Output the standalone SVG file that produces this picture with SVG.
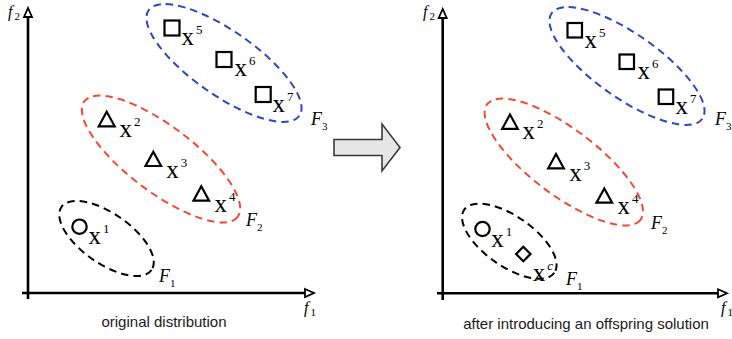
<svg xmlns="http://www.w3.org/2000/svg" width="732" height="339" viewBox="0 0 732 339">
<style>
.ax{stroke:#000;stroke-width:2.6;fill:none}
.pt{fill:#fff;stroke:#000;stroke-width:2.2}
.el{fill:none;stroke-width:2;stroke-dasharray:7.5 5}
.blue{stroke:#2a48c4}
.red{stroke:#f24b33}
.blk{stroke:#000}
.lbl{font-family:"Liberation Serif","Times New Roman",serif;font-size:25px;fill:#000}
.sup{font-size:13px}
.F{font-family:"Liberation Serif","Times New Roman",serif;font-size:18px;font-style:italic;fill:#000}
.sub{font-size:11px;font-style:normal}
.f{font-family:"Liberation Serif","Times New Roman",serif;font-size:16px;font-style:italic;fill:#000}
.cap{font-family:"Liberation Sans",Arial,sans-serif;font-size:15px;fill:#1a1a1a;text-anchor:middle}
</style>
<defs>
<marker id="ah" markerUnits="userSpaceOnUse" markerWidth="14" markerHeight="12" refX="1" refY="5" orient="auto" overflow="visible">
<path d="M1,1 L10,5 L1,9 Z" fill="#fff" stroke="#000" stroke-width="1.8" stroke-linejoin="miter"/>
</marker>
</defs>
<rect width="732" height="339" fill="#fff"/>

<!-- Left panel -->
<g id="left-axes">
<line class="ax" x1="28" y1="299" x2="28" y2="17" marker-end="url(#ah)"/>
<line class="ax" x1="22" y1="293" x2="305" y2="293" marker-end="url(#ah)"/>
<text class="f" x="8" y="17">f<tspan class="sub" dx="2" dy="3">2</tspan></text>
<text class="f" x="304" y="313">f<tspan class="sub" dx="2" dy="3">1</tspan></text>
<text class="cap" x="164" y="327">original distribution</text>
</g>
<g id="left-F3">
<ellipse class="el blue" cx="224" cy="63" rx="92" ry="32" transform="rotate(35 224 63)"/>
<text class="F" x="311" y="125">F<tspan class="sub" dy="5">3</tspan></text>
</g>
<g id="left-F2">
<ellipse class="el red" cx="161" cy="159" rx="96" ry="33" transform="rotate(37 161 159)"/>
<text class="F" x="246" y="226">F<tspan class="sub" dy="5">2</tspan></text>
</g>
<g id="left-F1">
<ellipse class="el blk" cx="106.5" cy="238.5" rx="55" ry="25" transform="rotate(35 106.5 238.5)"/>
<text class="F" x="159" y="282">F<tspan class="sub" dy="5">1</tspan></text>
</g>
<g id="left-x5"><rect class="pt" x="164.5" y="20.5" width="15" height="15"/><text class="lbl" x="181.5" y="45">x<tspan class="sup" dx="2" dy="-11">5</tspan></text></g>
<g id="left-x6"><rect class="pt" x="216.5" y="52" width="15" height="15"/><text class="lbl" x="234.5" y="76">x<tspan class="sup" dx="2" dy="-11">6</tspan></text></g>
<g id="left-x7"><rect class="pt" x="255.7" y="87" width="15" height="15"/><text class="lbl" x="272.5" y="111.7">x<tspan class="sup" dx="2" dy="-11">7</tspan></text></g>
<g id="left-x2"><polygon class="pt" points="106.7,111.7 98.7,126.3 114.7,126.3"/><text class="lbl" x="119.5" y="136.7">x<tspan class="sup" dx="2" dy="-11">2</tspan></text></g>
<g id="left-x3"><polygon class="pt" points="153.3,151.7 145.5,166 161.1,166"/><text class="lbl" x="166.2" y="178">x<tspan class="sup" dx="2" dy="-11">3</tspan></text></g>
<g id="left-x4"><polygon class="pt" points="201.3,186.3 193.5,200.7 209.1,200.7"/><text class="lbl" x="214.5" y="211.7">x<tspan class="sup" dx="2" dy="-11">4</tspan></text></g>
<g id="left-x1"><circle class="pt" cx="79.5" cy="226.7" r="7.2"/><text class="lbl" x="88.5" y="244">x<tspan class="sup" dx="2" dy="-11">1</tspan></text></g>

<!-- Connector: block arrow -->
<g id="connectors">
<polygon points="334,139.5 382,139.5 382,124 400,147.5 382,171 382,155.5 334,155.5" fill="#e6e6e6" stroke="#3a3a3a" stroke-width="1.6" stroke-linejoin="miter"/>
</g>

<!-- Right panel -->
<g id="right-axes">
<line class="ax" x1="442.7" y1="300" x2="442.7" y2="18" marker-end="url(#ah)"/>
<line class="ax" x1="437" y1="293.3" x2="718" y2="293.3" marker-end="url(#ah)"/>
<text class="f" x="423" y="17">f<tspan class="sub" dx="2" dy="3">2</tspan></text>
<text class="f" x="721" y="313">f<tspan class="sub" dx="2" dy="3">1</tspan></text>
<text class="cap" x="586" y="329">after introducing an offspring solution</text>
</g>
<g id="right-F3">
<ellipse class="el blue" cx="627" cy="66" rx="92" ry="32" transform="rotate(35 627 66)"/>
<text class="F" x="715" y="124.5">F<tspan class="sub" dy="5">3</tspan></text>
</g>
<g id="right-F2">
<ellipse class="el red" cx="563.8" cy="162" rx="96" ry="33" transform="rotate(37 563.8 162)"/>
<text class="F" x="651" y="228.5">F<tspan class="sub" dy="5">2</tspan></text>
</g>
<g id="right-F1">
<ellipse class="el blk" cx="509.3" cy="241.2" rx="55" ry="25" transform="rotate(35 509.3 241.2)"/>
<text class="F" x="566" y="285">F<tspan class="sub" dy="5">1</tspan></text>
</g>
<g id="right-x5"><rect class="pt" x="567.5" y="23" width="14.5" height="14.5"/><text class="lbl" x="584.5" y="47.5">x<tspan class="sup" dx="2" dy="-11">5</tspan></text></g>
<g id="right-x6"><rect class="pt" x="619.5" y="54.5" width="14.5" height="14.5"/><text class="lbl" x="637.5" y="78.5">x<tspan class="sup" dx="2" dy="-11">6</tspan></text></g>
<g id="right-x7"><rect class="pt" x="658.7" y="89.5" width="14.5" height="14.5"/><text class="lbl" x="675.5" y="114.2">x<tspan class="sup" dx="2" dy="-11">7</tspan></text></g>
<g id="right-x2"><polygon class="pt" points="510,114.5 502.2,128.8 517.8,128.8"/><text class="lbl" x="522.5" y="139.2">x<tspan class="sup" dx="2" dy="-11">2</tspan></text></g>
<g id="right-x3"><polygon class="pt" points="556,154 548.2,168.3 563.8,168.3"/><text class="lbl" x="569.2" y="180.5">x<tspan class="sup" dx="2" dy="-11">3</tspan></text></g>
<g id="right-x4"><polygon class="pt" points="604.3,188.5 596.5,202.7 612.1,202.7"/><text class="lbl" x="617.5" y="214.2">x<tspan class="sup" dx="2" dy="-11">4</tspan></text></g>
<g id="right-x1"><circle class="pt" cx="482.5" cy="229" r="7.2"/><text class="lbl" x="491.2" y="246.7">x<tspan class="sup" dx="2" dy="-11">1</tspan></text></g>
<g id="right-xc"><polygon class="pt" points="523.3,246.8 530.5,254 523.3,261.2 516.1,254"/><text class="lbl" x="532.8" y="280.5">x<tspan class="sup" dx="2" dy="-11" font-style="italic">c</tspan></text></g>
</svg>
